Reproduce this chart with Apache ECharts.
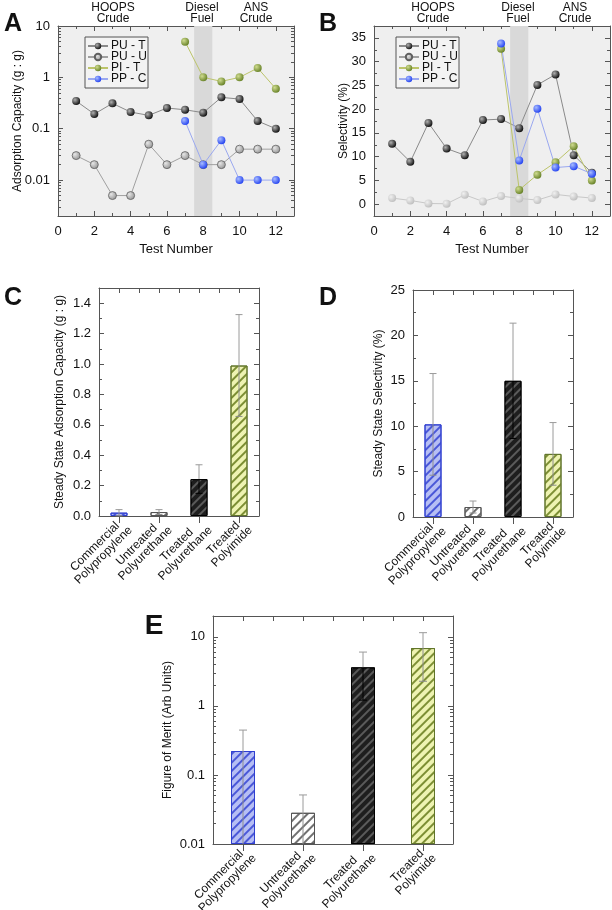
<!DOCTYPE html>
<html><head><meta charset="utf-8">
<script src="https://cdn.jsdelivr.net/npm/echarts@6/dist/echarts.min.js"></script>
<style>html,body{margin:0;padding:0;background:#fff}#c{width:612px;height:910px}</style>
</head><body><div id="c"></div><script>
// ---------------- DATA ----------------
const testNumbers = [1,2,3,4,5,6,7,8,9,10,11,12];
const capA_PUT = [0.346,0.193,0.312,0.211,0.182,0.253,0.234,0.205,0.408,0.378,0.141,0.100];
const capA_PUU = [0.030,0.020,0.005,0.005,0.050,0.020,0.030,0.020,0.020,0.040,0.040,0.040];
const capA_PIT = [null,null,null,null,null,null,4.95,1.00,0.835,1.00,1.52,0.60];
const capA_PPC = [null,null,null,null,null,null,0.141,0.020,0.060,0.010,0.010,0.010];
const selB_PUT = [12.7,8.9,17.1,11.7,10.3,17.7,17.9,16.0,25.1,27.3,10.3,6.6];
const selB_PUU = [1.27,0.77,0.14,0.07,1.97,0.56,1.69,1.20,0.85,2.04,1.62,1.27];
const selB_PIT = [null,null,null,null,null,null,32.7,3.0,6.2,8.8,12.2,5.0];
const selB_PPC = [null,null,null,null,null,null,33.8,9.2,20.1,7.7,8.0,6.4];
const seriesNames = ['PU - T','PU - U','PI - T','PP - C'];
const dieselBand = [7.5, 8.5];
const xTicks = [0, 13, 2];
const materials = ['Commercial\nPolypropylene','Untreated\nPolyurethane','Treated\nPolyurethane','Treated\nPolyimide'];
const capacity = [0.022, 0.026, 0.243, 0.99];
const capacityErr = [0.020, 0.016, 0.094, 0.335];
const selectivity = [10.2, 1.1, 15.0, 6.95];
const selectivityErr = [5.6, 0.66, 6.35, 3.45];
const merit = [0.222, 0.0283, 3.61, 6.87];
const meritErr = [0.224, 0.023, 2.4, 4.6];

// ---------------- STYLES ----------------
const FONT = '"Liberation Sans", Arial, sans-serif';
const AX = '#555';
function sphere(light, dark){return {type:'radial',x:0.35,y:0.35,r:0.75,colorStops:[{offset:0,color:light},{offset:1,color:dark}]};}
const lineStyles = {
  'PU - T': {line:'#8a8a8a', item:sphere('#b0b0b0','#000'), border:'#000', bw:0},
  'PU - U': {line:'#a0a0a0', item:sphere('#e6e6e6','#8c8c8c'), border:'#606060', bw:0.8},
  'PI - T': {line:'#bcc46a', item:sphere('#d0dc90','#5e7a1e'), border:'#5e7a1e', bw:0},
  'PP - C': {line:'#9aa8f0', item:sphere('#a8bcff','#1838f0'), border:'#1838f0', bw:0}
};
const lineStylesB = Object.assign({}, lineStyles, {
  'PU - U': {line:'#c8c8c8', item:sphere('#f0f0f0','#bababa'), border:'#bababa', bw:0}
});
function hatch(color){return {symbol:'rect',symbolSize:1,dashArrayX:[1,0],dashArrayY:[1.1,3.8],rotation:-Math.PI/4,color:color};}
const barStyles = [
  {color:'#b6bef4', borderColor:'#2f3fd0', borderWidth:1, decal:hatch('#4a58d8')},
  {color:'#ffffff', borderColor:'#555555', borderWidth:1, decal:hatch('#707070')},
  {color:'#1e1e1e', borderColor:'#000000', borderWidth:1, decal:hatch('#5a5a5a')},
  {color:'#eef3b2', borderColor:'#61752a', borderWidth:1, decal:hatch('#7d8f34')}
];
const errInner = ['#8e8e8e','#8e8e8e','#000000','#8e8e8e'];

function pairs(xs, ys){const out=[];xs.forEach((x,i)=>{if(ys[i]!=null)out.push([x,ys[i]]);});return out;}

function lineSeries(name, data, xi, yi, st, extra){
  return Object.assign({
    type:'line', name:name, xAxisIndex:xi, yAxisIndex:yi, data:data,
    symbol:'circle', symbolSize:8, showSymbol:true,
    lineStyle:{color:st.line, width:1},
    itemStyle:{color:st.item, borderColor:st.border, borderWidth:st.bw},
    emphasis:{disabled:true}, z:3
  }, extra||{});
}

function errSeries(xi, yi, vals, errs, axisMin, cap){
  return {
    type:'custom', xAxisIndex:xi, yAxisIndex:yi, z:5, silent:true,
    data: vals.map((v,i)=>[i, v, errs[i]]),
    renderItem: function(params, api){
      const i = api.value(0), v = api.value(1), e = api.value(2);
      const hi = api.coord([i, v+e]);
      const mid = api.coord([i, v]);
      const loV = v - e;
      const clipped = !(loV > axisMin);
      const lo = api.coord([i, clipped ? axisMin : loV]);
      const c = cap/2;
      const children = [
        {type:'line', shape:{x1:hi[0],y1:hi[1],x2:mid[0],y2:mid[1]}, style:{stroke:'#9a9a9a',lineWidth:1}},
        {type:'line', shape:{x1:hi[0]-c,y1:hi[1],x2:hi[0]+c,y2:hi[1]}, style:{stroke:'#9a9a9a',lineWidth:1}},
        {type:'line', shape:{x1:mid[0],y1:mid[1],x2:lo[0],y2:lo[1]}, style:{stroke:errInner[i],lineWidth:1}}
      ];
      if(!clipped) children.push({type:'line', shape:{x1:lo[0]-c,y1:lo[1],x2:lo[0]+c,y2:lo[1]}, style:{stroke:errInner[i],lineWidth:1}});
      return {type:'group', children:children};
    }
  };
}

const tickLabel = {color:'#111', fontFamily:FONT, fontSize:13};
function valAxis(o){
  return Object.assign({
    axisLine:{show:true,onZero:false,lineStyle:{color:AX,width:1}},
    axisTick:{show:true,inside:true,length:5,lineStyle:{color:AX}},
    minorTick:{show:false},
    splitLine:{show:false},
    axisLabel:Object.assign({show:true, margin:8}, tickLabel),
    nameTextStyle:{color:'#111', fontFamily:FONT, fontSize:12},
    nameMoveOverlap:false
  }, o);
}
function mirror(o){
  const a = valAxis(o);
  a.axisLabel = {show:false};
  a.name = '';
  return a;
}
const logMinor = {show:true, splitNumber:9, length:3, lineStyle:{color:AX}};

// Grids
const grids = [
  {left:58, top:26, width:236, height:190},
  {left:374, top:26, width:236, height:190},
  {left:99, top:288, width:160, height:228},
  {left:413, top:290, width:160, height:227},
  {left:213, top:616, width:240, height:228}
].map(g=>Object.assign({containLabel:false, outerBoundsMode:'none', show:false}, g));
grids[0].show = true; grids[0].backgroundColor = '#efefef'; grids[0].borderWidth = 0;
grids[1].show = true; grids[1].backgroundColor = '#efefef'; grids[1].borderWidth = 0;

const testX = {type:'value', min:xTicks[0], max:xTicks[1], interval:xTicks[2],
  minorTick:{show:true,splitNumber:2,length:3,lineStyle:{color:AX}}};
const xAxes = [
  valAxis(Object.assign({gridIndex:0, position:'bottom', name:'Test Number', nameLocation:'middle', nameGap:27,
    nameTextStyle:{color:'#111',fontFamily:FONT,fontSize:13}}, testX, {axisLabel:Object.assign({showMaxLabel:false,margin:9},tickLabel)})),
  mirror(Object.assign({gridIndex:0, position:'top'}, testX)),
  valAxis(Object.assign({gridIndex:1, position:'bottom', name:'Test Number', nameLocation:'middle', nameGap:27,
    nameTextStyle:{color:'#111',fontFamily:FONT,fontSize:13}}, testX, {axisLabel:Object.assign({showMaxLabel:false,margin:9},tickLabel)})),
  mirror(Object.assign({gridIndex:1, position:'top'}, testX))
];
function catAxis(gi){
  return {type:'category', gridIndex:gi, position:'bottom', data:materials,
    axisLine:{show:true,onZero:false,lineStyle:{color:AX}},
    axisTick:{show:true,alignWithLabel:true,inside:false,length:7,lineStyle:{color:AX}},
    axisLabel:{rotate:45, interval:0, margin:1, padding:[20,0,0,0],
      formatter: v => v.split('\n').map(s => '{c|' + s + '}').join('\n'),
      rich:{c:{align:'center', color:'#111', fontFamily:FONT, fontSize:12, lineHeight:12}}}};
}
function topCat(gi){
  return mirror({type:'value', gridIndex:gi, position:'top', min:0, max:4, interval:0.5,
    axisTick:{show:true,inside:true,length:5,lineStyle:{color:AX}}});
}
xAxes.push(catAxis(2), topCat(2), catAxis(3), topCat(3), catAxis(4), topCat(4));

const capY = {type:'log', logBase:10, min:0.002, max:10, minorTick:logMinor};
const selY = {type:'value', min:-2.5, max:37.5, splitNumber:8, minorTick:{show:true,splitNumber:2,length:3,lineStyle:{color:AX}}};
const ssCapY = {type:'value', min:0, max:1.5, interval:0.2, minorTick:{show:true,splitNumber:2,length:3,lineStyle:{color:AX}}};
const ssSelY = {type:'value', min:0, max:25, interval:5, minorTick:{show:true,splitNumber:2,length:3,lineStyle:{color:AX}}};
const meritY = {type:'log', logBase:10, min:0.01, max:20, startValue:0.01, minorTick:logMinor};

const yAxes = [
  valAxis(Object.assign({gridIndex:0, position:'left', name:'Adsorption Capacity (g : g)', nameLocation:'middle', nameGap:34,
    axisLabel:Object.assign({showMinLabel:false, margin:8}, tickLabel)}, capY)),
  mirror(Object.assign({gridIndex:0, position:'right'}, capY)),
  valAxis(Object.assign({gridIndex:1, position:'left', name:'Selectivity (%)', nameLocation:'middle', nameGap:24,
    axisLabel:Object.assign({showMinLabel:false, showMaxLabel:false, margin:8}, tickLabel)}, selY)),
  mirror(Object.assign({gridIndex:1, position:'right'}, selY)),
  valAxis(Object.assign({gridIndex:2, position:'left', name:'Steady State Adsorption Capacity (g : g)', nameLocation:'middle', nameGap:33,
    axisLabel:Object.assign({showMaxLabel:false, margin:8, formatter:v=>v.toFixed(1)}, tickLabel)}, ssCapY)),
  mirror(Object.assign({gridIndex:2, position:'right'}, ssCapY)),
  valAxis(Object.assign({gridIndex:3, position:'left', name:'Steady State Selectivity (%)', nameLocation:'middle', nameGap:28}, ssSelY)),
  mirror(Object.assign({gridIndex:3, position:'right'}, ssSelY)),
  valAxis(Object.assign({gridIndex:4, position:'left', name:'Figure of Merit (Arb Units)', nameLocation:'middle', nameGap:39,
    axisLabel:Object.assign({showMaxLabel:false, margin:8}, tickLabel)}, meritY)),
  mirror(Object.assign({gridIndex:4, position:'right'}, meritY))
];

const series = [
  lineSeries('PU - T', pairs(testNumbers, capA_PUT), 0, 0, lineStyles['PU - T'], {
    markArea:{silent:true, itemStyle:{color:'#d9d9d9'}, data:[[{xAxis:dieselBand[0]},{xAxis:dieselBand[1]}]]}}),
  lineSeries('PU - U', pairs(testNumbers, capA_PUU), 0, 0, lineStyles['PU - U']),
  lineSeries('PI - T', pairs(testNumbers, capA_PIT), 0, 0, lineStyles['PI - T']),
  lineSeries('PP - C', pairs(testNumbers, capA_PPC), 0, 0, lineStyles['PP - C']),
  lineSeries('PU - T', pairs(testNumbers, selB_PUT), 2, 2, lineStylesB['PU - T'], {
    markArea:{silent:true, itemStyle:{color:'#d9d9d9'}, data:[[{xAxis:dieselBand[0]},{xAxis:dieselBand[1]}]]}}),
  lineSeries('PU - U', pairs(testNumbers, selB_PUU), 2, 2, lineStylesB['PU - U']),
  lineSeries('PI - T', pairs(testNumbers, selB_PIT), 2, 2, lineStylesB['PI - T']),
  lineSeries('PP - C', pairs(testNumbers, selB_PPC), 2, 2, lineStylesB['PP - C']),
  {type:'bar', xAxisIndex:4, yAxisIndex:4, barWidth:17, data:capacity.map((v,i)=>({value:v,itemStyle:barStyles[i]})), emphasis:{disabled:true}},
  errSeries(4, 4, capacity, capacityErr, 0, 7),
  {type:'bar', xAxisIndex:6, yAxisIndex:6, barWidth:17, data:selectivity.map((v,i)=>({value:v,itemStyle:barStyles[i]})), emphasis:{disabled:true}},
  errSeries(6, 6, selectivity, selectivityErr, 0, 7),
  {type:'bar', xAxisIndex:8, yAxisIndex:8, barWidth:24, data:merit.map((v,i)=>({value:v,itemStyle:barStyles[i]})), emphasis:{disabled:true}},
  errSeries(8, 8, merit, meritErr, 0.01, 8)
];

function legendAt(left, top){
  return {data:seriesNames, orient:'vertical', left:left, top:top, itemWidth:20, itemHeight:8, itemGap:-1,
    padding:[3,1,3,2], borderColor:'#555', borderWidth:1, backgroundColor:'rgba(245,245,245,0.6)',
    selectedMode:false, textStyle:{color:'#111', fontFamily:FONT, fontSize:12, lineHeight:10, padding:[0,0,0,-2]}};
}

function txt(text, x, y, size, weight){
  return {type:'text', style:{text:text, x:x, y:y, textAlign:'center', textVerticalAlign:'middle',
    font:(weight||'normal')+' '+size+'px '+FONT, fill:'#111', lineHeight:Math.round(size*0.95)}};
}
const graphics = [
  txt('HOOPS\nCrude', 113, 13, 12), txt('Diesel\nFuel', 202, 13, 12), txt('ANS\nCrude', 256, 13, 12),
  txt('HOOPS\nCrude', 433, 13, 12), txt('Diesel\nFuel', 518, 13, 12), txt('ANS\nCrude', 575, 13, 12),
  txt('A', 13, 24, 25, 'bold'), txt('B', 328, 24, 25, 'bold'), txt('C', 13, 298, 25, 'bold'),
  txt('D', 328, 298, 25, 'bold'), txt('E', 154, 626, 28, 'bold')
];

const chart = echarts.init(document.getElementById('c'), null, {renderer:'canvas'});
chart.setOption({
  animation:false,
  backgroundColor:'#ffffff',
  grid:grids, xAxis:xAxes, yAxis:yAxes, series:series,
  legend:[legendAt(85,37), legendAt(396,37)],
  graphic:graphics
});
</script></body></html>
